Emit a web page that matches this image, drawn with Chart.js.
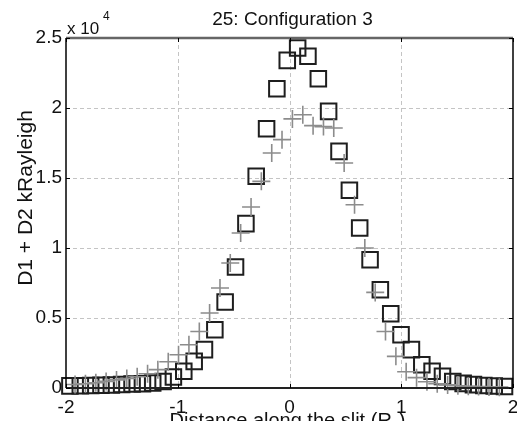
<!DOCTYPE html>
<html>
<head>
<meta charset="utf-8">
<script src="https://cdn.jsdelivr.net/npm/chart.js@4/dist/chart.umd.min.js"></script>
<style>
  html, body { margin: 0; padding: 0; background: #fff; overflow: hidden; }
  /* 9px wider than the window: Chart.js keeps ~13px clear for the markers,
     MATLAB puts the right axis at 513 */
  #wrap { width: 526px; height: 421px; position: relative; }
  canvas { display: block; }
</style>
</head>
<body>
<div id="wrap"><canvas id="chart"></canvas></div>
<script>
// squares (black)
var squareX = [-1.965, -1.872, -1.779, -1.687, -1.594, -1.502, -1.409, -1.316, -1.224, -1.131,
  -1.039, -0.946, -0.853, -0.761, -0.668, -0.576, -0.483, -0.390, -0.298, -0.205,
  -0.113, -0.020, 0.073, 0.165, 0.258, 0.350, 0.443, 0.536, 0.628, 0.721,
  0.813, 0.906, 0.998, 1.091, 1.184, 1.276, 1.369, 1.461, 1.554, 1.646,
  1.739, 1.832, 1.924];
var squareY = [150, 160, 180, 200, 220, 250, 280, 310, 360, 470,
  790, 1190, 1900, 2740, 4160, 6140, 8640, 11740, 15120, 18520,
  21380, 23400, 24290, 23690, 22090, 19760, 16900, 14120, 11430, 9160,
  7020, 5310, 3810, 2740, 1660, 1190, 830, 470, 330, 240,
  180, 140, 110];

// crosses (grey)
var crossX = [-1.919, -1.826, -1.733, -1.641, -1.548, -1.456, -1.363, -1.270, -1.178, -1.085,
  -0.993, -0.900, -0.807, -0.715, -0.622, -0.530, -0.437, -0.344, -0.252, -0.159,
  -0.067, 0.026, 0.119, 0.211, 0.304, 0.396, 0.489, 0.582, 0.674, 0.767,
  0.859, 0.952, 1.044, 1.137, 1.230, 1.322, 1.415, 1.507, 1.600, 1.692,
  1.785, 1.878];
var crossY = [250, 300, 380, 470, 580, 680, 800, 1020, 1310, 1880,
  2380, 3090, 4040, 5360, 7140, 8930, 11070, 12930, 14760, 16790,
  17740, 19220, 19520, 18740, 18670, 18570, 16070, 13090, 10000, 6830,
  4040, 2260, 1160, 740, 450, 300, 220, 160, 120, 100,
  80, 60];

var xTicks = [-2, -1, 0, 1, 2];
var yTicks = [0, 5000, 10000, 15000, 20000, 25000];

var FONT = "'Liberation Sans', Arial, sans-serif";

function pts(xs, ys) {
  return xs.map(function (x, i) { return { x: x, y: ys[i] }; });
}

var matlabAxes = {
  id: 'matlabAxes',
  beforeDatasetsDraw: function (chart) {
    var ctx = chart.ctx, a = chart.chartArea;
    var xs = chart.scales.x, ys = chart.scales.y;
    ctx.save();
    ctx.strokeStyle = '#c4c4c4';
    ctx.lineWidth = 1;
    ctx.setLineDash([4, 3]);
    xTicks.slice(1, -1).forEach(function (v) {
      var px = Math.round(xs.getPixelForValue(v)) + 0.5;
      ctx.beginPath(); ctx.moveTo(px, a.top); ctx.lineTo(px, a.bottom); ctx.stroke();
    });
    yTicks.slice(1, -1).forEach(function (v) {
      var py = Math.round(ys.getPixelForValue(v)) + 0.5;
      ctx.beginPath(); ctx.moveTo(a.left, py); ctx.lineTo(a.right, py); ctx.stroke();
    });
    ctx.restore();
  },
  afterDatasetsDraw: function (chart) {
    var ctx = chart.ctx, a = chart.chartArea;
    var xs = chart.scales.x, ys = chart.scales.y;
    ctx.save();
    // box
    ctx.strokeStyle = '#666';
    ctx.lineWidth = 2.5;
    ctx.beginPath(); ctx.moveTo(a.left, a.top); ctx.lineTo(a.right, a.top); ctx.stroke();
    ctx.strokeStyle = '#222';
    ctx.lineWidth = 2;
    ctx.beginPath(); ctx.moveTo(a.left, a.bottom); ctx.lineTo(a.right, a.bottom); ctx.stroke();
    ctx.strokeStyle = '#000';
    ctx.lineWidth = 1.5;
    ctx.beginPath(); ctx.moveTo(a.left, a.top); ctx.lineTo(a.left, a.bottom); ctx.stroke();
    ctx.beginPath(); ctx.moveTo(a.right, a.top); ctx.lineTo(a.right, a.bottom); ctx.stroke();
    // inward ticks
    ctx.lineWidth = 1;
    ctx.strokeStyle = '#000';
    xTicks.forEach(function (v) {
      var px = Math.round(xs.getPixelForValue(v)) + 0.5;
      ctx.beginPath(); ctx.moveTo(px, a.bottom); ctx.lineTo(px, a.bottom - 4); ctx.stroke();
      ctx.beginPath(); ctx.moveTo(px, a.top); ctx.lineTo(px, a.top + 4); ctx.stroke();
    });
    yTicks.forEach(function (v) {
      var py = Math.round(ys.getPixelForValue(v)) + 0.5;
      ctx.beginPath(); ctx.moveTo(a.left, py); ctx.lineTo(a.left + 4, py); ctx.stroke();
      ctx.beginPath(); ctx.moveTo(a.right, py); ctx.lineTo(a.right - 4, py); ctx.stroke();
    });
    ctx.restore();
  },
  afterDraw: function (chart) {
    var ctx = chart.ctx, a = chart.chartArea;
    var xs = chart.scales.x;
    var cx = (a.left + a.right) / 2;
    ctx.save();
    ctx.fillStyle = '#111';
    ctx.textBaseline = 'alphabetic';
    // x tick labels (MATLAB lets the last one run off the edge)
    ctx.font = '19px ' + FONT;
    ctx.textAlign = 'center';
    xTicks.forEach(function (v) {
      ctx.fillText(String(v), xs.getPixelForValue(v), 413);
    });
    // title
    ctx.fillText('25: Configuration 3', cx + 3, 25);
    // exponent
    ctx.textAlign = 'left';
    ctx.font = '17px ' + FONT;
    ctx.fillText('x 10', a.left + 1, 34);
    ctx.font = '12px ' + FONT;
    ctx.fillText('4', a.left + 37, 20);
    // x axis title (cut by the bottom edge)
    var main = 'Distance along the slit (R';
    ctx.font = '20px ' + FONT;
    var w1 = ctx.measureText(main).width;
    ctx.font = '14px ' + FONT;
    var w2 = ctx.measureText('J').width;
    ctx.font = '20px ' + FONT;
    var w3 = ctx.measureText(')').width;
    var x0 = cx - 2 - (w1 + w2 + w3) / 2;
    ctx.fillText(main, x0, 427);
    ctx.font = '14px ' + FONT;
    ctx.fillText('J', x0 + w1, 431);
    ctx.font = '20px ' + FONT;
    ctx.fillText(')', x0 + w1 + w2, 427);
    // y axis title
    ctx.translate(32, 198);
    ctx.rotate(-Math.PI / 2);
    ctx.textAlign = 'center';
    ctx.font = '21px ' + FONT;
    ctx.fillText('D1 + D2 kRayleigh', 0, 0);
    ctx.restore();
  }
};

new Chart(document.getElementById('chart'), {
  type: 'scatter',
  data: {
    datasets: [{
      label: 'cross',
      data: pts(crossX, crossY),
      pointStyle: 'cross',
      pointRadius: 9,
      pointBorderWidth: 1.6,
      borderColor: '#8c8c8c',
      backgroundColor: '#8c8c8c',
      clip: false
    }, {
      label: 'square',
      data: pts(squareX, squareY),
      pointStyle: 'rect',
      pointRadius: 11,
      pointBorderWidth: 2,
      borderColor: '#1e1e1e',
      backgroundColor: 'rgba(0,0,0,0)',
      clip: false
    }]
  },
  options: {
    responsive: true,
    maintainAspectRatio: false,
    animation: false,
    layout: { padding: { top: 38, right: 0, left: 0, bottom: 0 } },
    plugins: {
      legend: { display: false },
      tooltip: { enabled: false }
    },
    scales: {
      x: {
        type: 'linear',
        min: -2, max: 2,
        afterBuildTicks: function (s) { s.ticks = xTicks.map(function (v) { return { value: v }; }); },
        afterFit: function (s) { s.height = 33; },
        grid: { display: false, drawTicks: false },
        border: { display: false },
        ticks: { display: false }
      },
      y: {
        type: 'linear',
        min: 0, max: 25000,
        afterBuildTicks: function (s) { s.ticks = yTicks.map(function (v) { return { value: v }; }); },
        afterFit: function (s) { s.width = 66; },
        grid: { display: false, drawTicks: false },
        border: { display: false },
        ticks: {
          padding: 4, color: '#111', font: { family: FONT, size: 19 },
          callback: function (v) { return String(v / 10000); }
        }
      }
    }
  },
  plugins: [matlabAxes]
});
</script>
</body>
</html>
